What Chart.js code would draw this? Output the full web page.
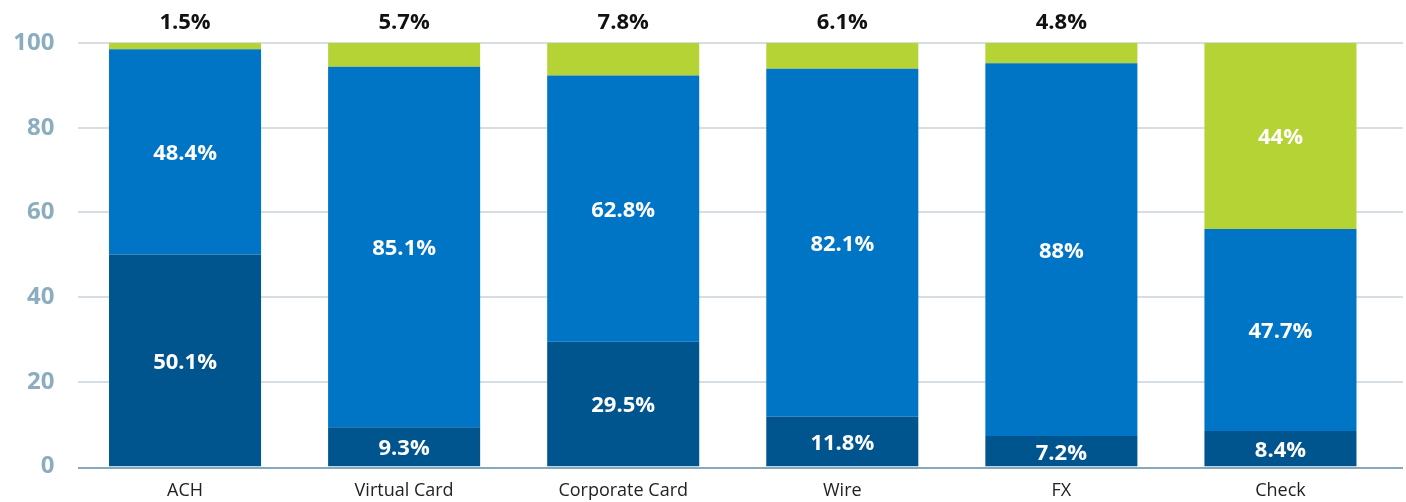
<!DOCTYPE html>
<html>
<head>
<meta charset="utf-8">
<script src="https://cdn.jsdelivr.net/npm/chart.js@4"></script>
<style>
  html, body { margin: 0; padding: 0; background: #fff; }
  #wrap { width: 1406px; height: 502px; }
</style>
</head>
<body>
<div id="wrap"><canvas id="payChart"></canvas></div>
<script>
const categories = ["ACH", "Virtual Card", "Corporate Card", "Wire", "FX", "Check"];
const darkValues = [50.1, 9.3, 29.5, 11.8, 7.2, 8.4];
const midValues = [48.4, 85.1, 62.8, 82.1, 88, 47.7];
const limeValues = [1.5, 5.7, 7.8, 6.1, 4.8, 44];
const yTicks = [0, 20, 40, 60, 80, 100];

const FONT = "'Open Sans'";

// gridlines + axis line drawn full width like the original
const gridPlugin = {
  id: "wideGrid",
  beforeDatasetsDraw(chart) {
    const { ctx, scales } = chart;
    const y = scales.y;
    ctx.save();
    ctx.lineWidth = 2;
    ctx.strokeStyle = "#d6dee4";
    yTicks.forEach((t) => {
      if (t === 0) return;
      const py = Math.round(y.getPixelForValue(t));
      ctx.beginPath();
      ctx.moveTo(78, py);
      ctx.lineTo(chart.width - 3, py);
      ctx.stroke();
    });
    ctx.restore();
  },
  afterDatasetsDraw(chart) {
    const { ctx, scales } = chart;
    const py = Math.round(scales.y.getPixelForValue(0)) + 1;
    ctx.save();
    ctx.lineWidth = 2;
    ctx.strokeStyle = "#86a9bb";
    ctx.beginPath();
    ctx.moveTo(78, py);
    ctx.lineTo(chart.width - 3, py);
    ctx.stroke();
    ctx.restore();
  },
};

const labelPlugin = {
  id: "segLabels",
  afterDatasetsDraw(chart) {
    const { ctx } = chart;
    const last = chart.data.datasets.length - 1;
    ctx.save();
    ctx.textAlign = "center";
    ctx.textBaseline = "middle";
    ctx.font = `bold 22px ${FONT}`;
    chart.data.datasets.forEach((ds, i) => {
      const meta = chart.getDatasetMeta(i);
      meta.data.forEach((bar, j) => {
        const v = ds.data[j];
        const top = Math.max(bar.y, chart.chartArea.top);
        const h = bar.base - top;
        if (i === last && h < 40) {
          // small top segment: label sits above the bar
          ctx.fillStyle = "#111";
          ctx.fillText(`${v}%`, bar.x, chart.chartArea.top - 20);
        } else {
          ctx.fillStyle = "#ffffff";
          ctx.fillText(`${v}%`, bar.x, (top + bar.base) / 2 + 2);
        }
      });
    });
    ctx.restore();
  },
};

new Chart(document.getElementById("payChart").getContext("2d"), {
  type: "bar",
  data: {
    labels: categories,
    datasets: [
      { label: "Dark", data: darkValues, backgroundColor: "#00558f" },
      { label: "Mid", data: midValues, backgroundColor: "#0074c5" },
      { label: "Lime", data: limeValues, backgroundColor: "#b5d335" },
    ],
  },
  options: {
    responsive: true,
    maintainAspectRatio: false,
    animation: false,
    layout: { padding: { top: 43, right: 16, left: 0, bottom: 0 } },
    datasets: {
      bar: { categoryPercentage: 1, barPercentage: 0.694, borderWidth: 0 },
    },
    plugins: {
      legend: { display: false },
      tooltip: { enabled: false },
    },
    scales: {
      x: {
        stacked: true,
        grid: { display: false, drawTicks: false },
        border: { display: false },
        ticks: {
          color: "#222",
          font: { family: FONT, size: 18 },
          padding: 13,
        },
        afterFit: (axis) => { axis.height = 35; },
      },
      y: {
        stacked: true,
        min: 0,
        max: 100,
        afterBuildTicks: (axis) => { axis.ticks = yTicks.map((v) => ({ value: v })); },
        grid: { display: false, drawTicks: false },
        border: { display: false },
        ticks: {
          color: "#8badbf",
          font: { family: FONT, size: 24, weight: "bold" },
          padding: 21,
        },
        afterFit: (axis) => { axis.width = 75.5; },
      },
    },
  },
  plugins: [gridPlugin, labelPlugin],
});
</script>
</body>
</html>
